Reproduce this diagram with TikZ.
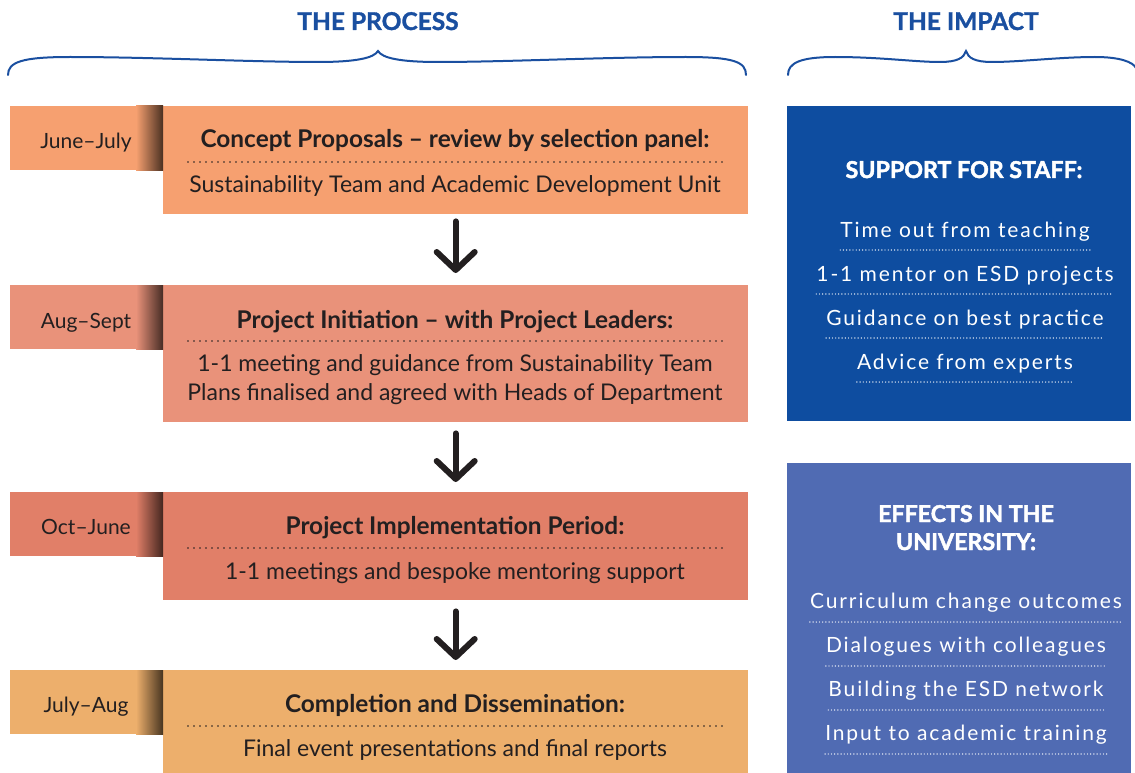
\documentclass[tikz,border=0pt]{standalone}
\usepackage{fontspec}
\setmainfont{Lato}
\newfontfamily\spc{Lato}[LetterSpace=9]
\usetikzlibrary{arrows.meta}
\definecolor{ink}{HTML}{231F20}
\definecolor{cA}{HTML}{F6A070}
\definecolor{cB}{HTML}{E9927A}
\definecolor{cC}{HTML}{E17F68}
\definecolor{cD}{HTML}{EDAF6C}
\definecolor{dblue}{HTML}{0E4DA0}
\definecolor{lblue}{HTML}{506BB3}
\definecolor{hblue}{HTML}{1A4FA0}
\tikzset{
  panel/.style={draw=none, inner sep=0, anchor=north west},
  txt/.style={inner sep=0, anchor=base, text=ink},
  ttl/.style={txt, font=\fontsize{24.4}{28}\selectfont\bfseries},
  sub/.style={txt, font=\fontsize{23}{26}\selectfont},
  date/.style={txt, font=\fontsize{21}{24}\selectfont},
  head/.style={inner sep=0, anchor=base, text=hblue, font=\fontsize{24.5}{28}\selectfont\bfseries\addfontfeature{FakeBold=1.2}},
  imp/.style={inner sep=0, anchor=base, text=white, font=\fontsize{23.2}{26}\selectfont\bfseries\addfontfeature{FakeBold=2}},
  item/.style={inner sep=0, anchor=base, text=white, font=\fontsize{21}{24}\selectfont\spc},
  odots/.style={draw=ink, line width=1.6pt, line cap=round, dash pattern=on 0pt off 6pt},
  wdots/.style={draw=white, line width=1.4pt, line cap=round, dash pattern=on 0pt off 3.2pt},
  brace/.style={draw=hblue, line width=2pt, line cap=round},
  arr/.style={draw=ink, line width=6pt, line cap=round, -{Straight Barb[round, length=18pt, width=38pt]}},
}
\begin{document}
\begin{tikzpicture}[x=1pt,y=-1pt]
\useasboundingbox (0,0) rectangle (1135,773);
% headings
\node[head] (hp) at (378,30) {THE PROCESS};
\node[head] (hi) at (966,30) {THE IMPACT};
% braces
\draw[brace] (8,75) .. controls (8,62) and (22,57) .. (70,57)
  .. controls (150,57) and (250,62) .. (318,62)
  .. controls (356,62) and (374,58) .. (378,51)
  .. controls (382,58) and (400,62) .. (438,62)
  .. controls (506,62) and (606,57) .. (686,57)
  .. controls (734,57) and (746,62) .. (746,75);
\draw[brace] (788,75) .. controls (788,63) and (800,57) .. (835,57)
  .. controls (880,57) and (915,62) .. (940,62)
  .. controls (957,62) and (964,58) .. (966,51)
  .. controls (968,58) and (975,62) .. (992,62)
  .. controls (1020,62) and (1060,57) .. (1095,57)
  .. controls (1120,57) and (1133,62) .. (1136,68);
% process boxes
\foreach \c/\t/\h/\n in {cA/106/108/1, cB/285/137/2, cC/492/108/3, cD/670/103/4}{
  \node[panel, fill=\c, minimum width=585pt, minimum height=\h pt] (p\n) at (163,\t) {};
  \node[panel, fill=\c, minimum width=153pt, minimum height=64pt] (d\n) at (10,\t) {};
  \fill[left color=\c, right color=\c!30!black] (136,\t) rectangle (163,\t+64);
}
% dates
\node[date] (l1) at (86,149) {June–July};
\node[date] (l2) at (86,328) {Aug–Sept};
\node[date] (l3) at (86,534) {Oct–June};
\node[date] (l4) at (86,712) {July–Aug};
% box 1
\node[ttl] (t1) at (455,148) {Concept Proposals – review by selection panel:};
\draw[odots] (188,162) -- (724,162);
\node[sub] (s1) at (455,192) {Sustainability Team and Academic Development Unit};
% box 2
\node[ttl] (t2) at (455,328) {Project Initiation – with Project Leaders:};
\draw[odots] (188,341) -- (724,341);
\node[sub] (s2a) at (455,371) {1-1 meeting and guidance from Sustainability Team};
\node[sub] (s2b) at (455,400) {Plans finalised and agreed with Heads of Department};
% box 3
\node[ttl] (t3) at (455,534) {Project Implementation Period:};
\draw[odots] (188,548) -- (724,548);
\node[sub] (s3) at (455,579) {1-1 meetings and bespoke mentoring support};
% box 4
\node[ttl] (t4) at (455,712) {Completion and Dissemination:};
\draw[odots] (188,726) -- (724,726);
\node[sub] (s4) at (455,756) {Final event presentations and final reports};
% arrows
\draw[arr, shorten <=7pt, shorten >=12pt] (p1.south) -- (p2.north);
\draw[arr, shorten <=11pt, shorten >=10pt] (p2.south) -- (p3.north);
\draw[arr, shorten <=11pt, shorten >=10pt] (p3.south) -- (p4.north);
% impact panels
\node[panel, fill=dblue, minimum width=344pt, minimum height=315pt] (b1) at (787,106) {};
\node[panel, fill=lblue, minimum width=344pt, minimum height=311pt] (b2) at (787,463) {};
\node[imp] (h1) at (964,178) {SUPPORT FOR STAFF:};
\foreach \n/\y/\s in {1/237/Time out from teaching, 2/281/1-1 mentor on ESD projects, 3/325/Guidance on best practice, 4/369/Advice from experts}{
  \node[item] (a\n) at (965,\y) {\s};
  \draw[wdots] ([yshift=-13pt]a\n.base west) -- ([yshift=-13pt]a\n.base east);
}
\node[imp] (h2a) at (966,522) {EFFECTS IN THE};
\node[imp] (h2b) at (966,550) {UNIVERSITY:};
\foreach \n/\y/\s in {1/608/Curriculum change outcomes, 2/652/Dialogues with colleagues, 3/696/Building the ESD network, 4/740/Input to academic training}{
  \node[item] (e\n) at (966,\y) {\s};
  \draw[wdots] ([yshift=-14pt]e\n.base west) -- ([yshift=-14pt]e\n.base east);
}
\end{tikzpicture}
\end{document}
